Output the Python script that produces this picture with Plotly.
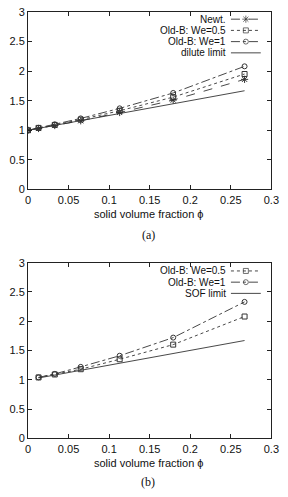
import plotly.graph_objects as go

# ---------------- data ----------------
phi_a = [0, 0.013, 0.033, 0.065, 0.113, 0.179, 0.267]
newt_a = [1.0, 1.03, 1.08, 1.16, 1.30, 1.51, 1.86]
we05_a = [1.0, 1.04, 1.09, 1.18, 1.33, 1.56, 1.95]
we1_a = [1.0, 1.04, 1.10, 1.20, 1.37, 1.63, 2.08]
dilute_phi = [0, 0.267]
dilute_val = [1.0, 1.6675]

phi_b = [0.013, 0.033, 0.065, 0.113, 0.179, 0.267]
we05_b = [1.04, 1.09, 1.18, 1.35, 1.60, 2.08]
we1_b = [1.04, 1.10, 1.22, 1.41, 1.72, 2.33]
sof_phi = [0.013, 0.267]
sof_val = [1.03, 1.67]

x_ticks = [0, 0.05, 0.1, 0.15, 0.2, 0.25, 0.3]
x_ticklabels = ["0", "0.05", "0.1", "0.15", "0.2", "0.25", "0.3"]
y_ticks = [0, 0.5, 1, 1.5, 2, 2.5, 3]
y_ticklabels = ["0", "0.5", "1", "1.5", "2", "2.5", "3"]

legend_a = ["Newt.", "Old-B: We=0.5", "Old-B: We=1", "dilute limit"]
legend_b = ["Old-B: We=0.5", "Old-B: We=1", "SOF limit"]
x_title = "solid volume fraction \u03d5"

# ---------------- geometry ----------------
W, H = 288, 497
X0, X1 = 26, 279          # plot area left/right px
TOP_A, BOT_A = 6, 188
TOP_B, BOT_B = 263, 443
FONT = "Liberation Sans, Arial, sans-serif"
LC = "#333333"

def px2x(px):
    return (px - X0) / (X1 - X0) * 0.3

def py2y(py, top, bot):
    return 3 * (bot - py) / (bot - top)

fig = go.Figure()

styles = {
    "newt": dict(dash="dash", symbol="asterisk-open", msize=6),
    "we05": dict(dash="dot", symbol="square-open", msize=5),
    "we1": dict(dash="dashdot", symbol="circle-open", msize=5),
    "lim": dict(dash="solid", symbol=None, msize=0),
}

def add_series(x, y, st, xa, ya):
    s = styles[st]
    kw = dict(x=x, y=y, xaxis=xa, yaxis=ya, showlegend=False, hoverinfo="skip",
              line=dict(color=LC, width=0.9, dash=s["dash"]))
    if s["symbol"]:
        kw["mode"] = "lines+markers"
        kw["marker"] = dict(symbol=s["symbol"], size=s["msize"], color=LC,
                            line=dict(color=LC, width=1.0))
    else:
        kw["mode"] = "lines"
    fig.add_trace(go.Scatter(**kw))

add_series(dilute_phi, dilute_val, "lim", "x", "y")
add_series(phi_a, newt_a, "newt", "x", "y")
add_series(phi_a, we05_a, "we05", "x", "y")
add_series(phi_a, we1_a, "we1", "x", "y")

add_series(sof_phi, sof_val, "lim", "x2", "y2")
add_series(phi_b, we05_b, "we05", "x2", "y2")
add_series(phi_b, we1_b, "we1", "x2", "y2")

annotations = []

def legend(labels, keys, rows_py, top, bot, xa, ya, text_right=233, l0=237, l1=268):
    for lab, key, py in zip(labels, keys, rows_py):
        s = styles[key]
        yy = py2y(py, top, bot)
        xs = [px2x(l0), px2x((l0 + l1) / 2), px2x(l1)]
        kw = dict(x=xs, y=[yy] * 3, xaxis=xa, yaxis=ya, showlegend=False,
                  hoverinfo="skip", line=dict(color=LC, width=0.9, dash=s["dash"]))
        if s["symbol"]:
            kw["mode"] = "lines+markers"
            kw["marker"] = dict(symbol=s["symbol"], size=[0, s["msize"], 0], color=LC,
                                line=dict(color=LC, width=1.0))
        else:
            kw["mode"] = "lines"
        fig.add_trace(go.Scatter(**kw))
        annotations.append(dict(x=text_right / W, y=1 - py / H, xref="paper", yref="paper",
                                xanchor="right", yanchor="middle", showarrow=False,
                                borderpad=0,
                                text=lab, font=dict(family=FONT, size=10, color="#111")))

legend(legend_a, ["newt", "we05", "we1", "lim"], [13.5, 25.0, 36.5, 48.0], TOP_A, BOT_A, "x", "y")
legend(legend_b, ["we05", "we1", "lim"], [271.5, 283.0, 294.5], TOP_B, BOT_B, "x2", "y2")

# axis titles and captions
for py, txt, fam, size in [(213, x_title, FONT, 11), (235, "(a)", "Liberation Serif, Times New Roman, serif", 12),
                           (468, x_title, FONT, 11), (488, "(b)", "Liberation Serif, Times New Roman, serif", 12)]:
    annotations.append(dict(x=(X0 + X1) / 2 / W - 0.005, y=1 - py / H, xref="paper", yref="paper",
                            xanchor="center", yanchor="middle", showarrow=False,
                            text=txt, font=dict(family=fam, size=size, color="#111")))

axis_common = dict(showgrid=False, zeroline=False, showline=True, linecolor="#222",
                   linewidth=1, mirror="ticks", ticks="inside", ticklen=4,
                   tickcolor="#222", tickwidth=1,
                   tickfont=dict(family=FONT, size=11, color="#111"))

xdom = [X0 / W, X1 / W]
fig.update_layout(
    width=W, height=H, margin=dict(l=0, r=0, t=0, b=0),
    paper_bgcolor="white", plot_bgcolor="white",
    xaxis=dict(domain=xdom, range=[0, 0.3], tickvals=x_ticks, ticktext=x_ticklabels,
               anchor="y", **axis_common),
    yaxis=dict(domain=[1 - BOT_A / H, 1 - TOP_A / H], range=[0, 3], tickvals=y_ticks,
               ticktext=y_ticklabels, anchor="x", **axis_common),
    xaxis2=dict(domain=xdom, range=[0, 0.3], tickvals=x_ticks, ticktext=x_ticklabels,
                anchor="y2", **axis_common),
    yaxis2=dict(domain=[1 - BOT_B / H, 1 - TOP_B / H], range=[0, 3], tickvals=y_ticks,
                ticktext=y_ticklabels, anchor="x2", **axis_common),
    annotations=annotations,
    showlegend=False,
)

fig.write_html("out.html")
